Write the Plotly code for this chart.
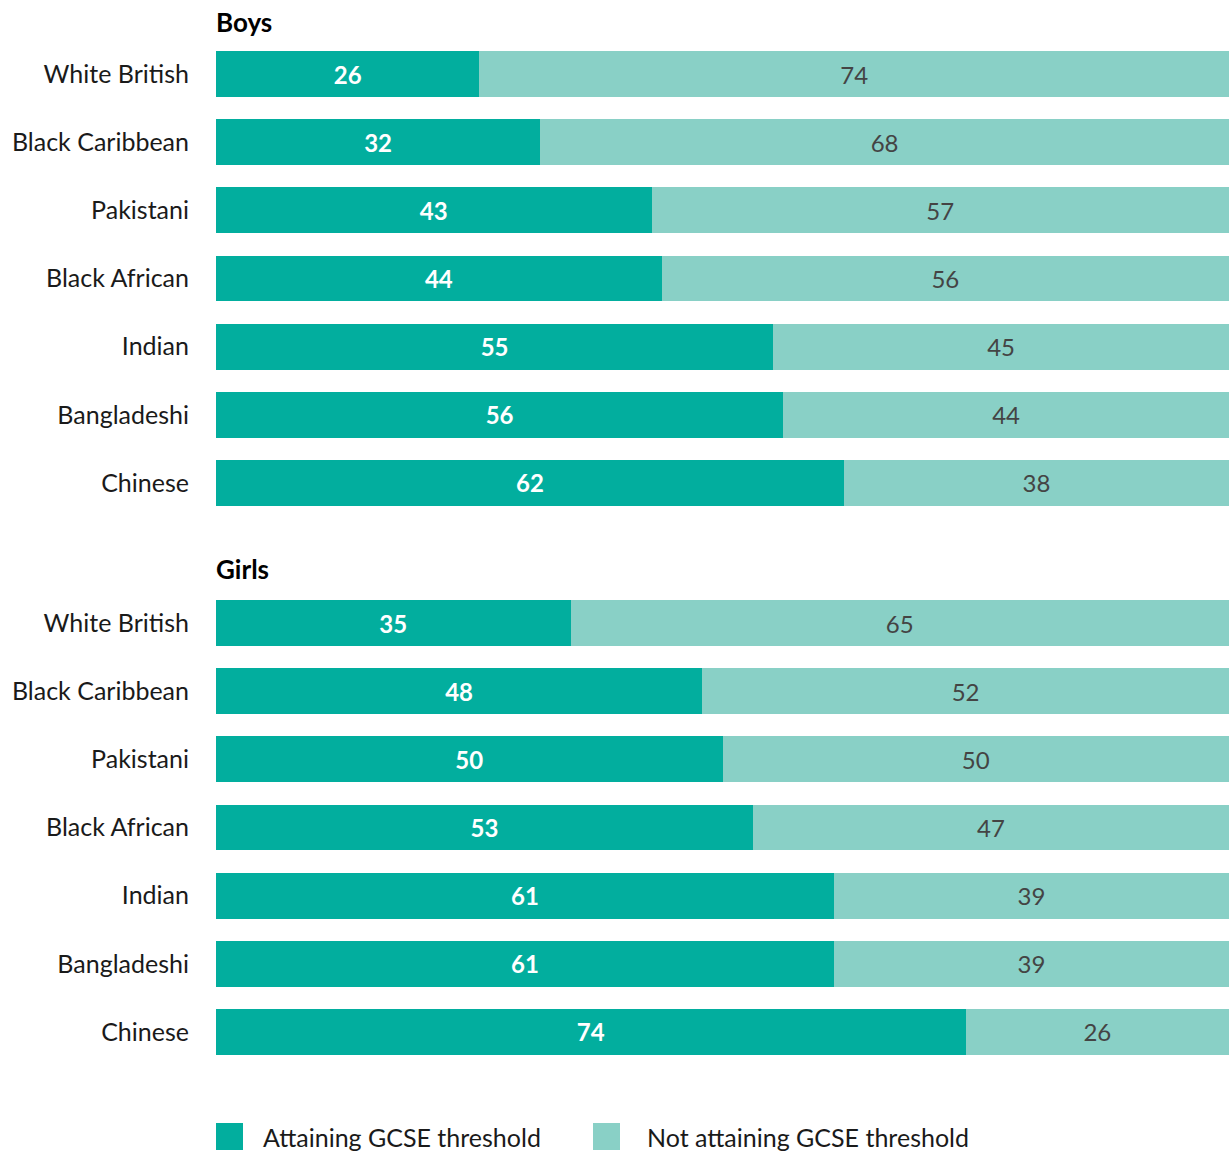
import plotly.graph_objects as go

categories = ["White British", "Black Caribbean", "Pakistani", "Black African",
              "Indian", "Bangladeshi", "Chinese"]
boys_attaining = [26, 32, 43, 44, 55, 56, 62]
boys_not = [74, 68, 57, 56, 45, 44, 38]
girls_attaining = [35, 48, 50, 53, 61, 61, 74]
girls_not = [65, 52, 50, 47, 39, 39, 26]
series_names = ["Attaining GCSE threshold", "Not attaining GCSE threshold"]
panel_titles = ["Boys", "Girls"]

W, H = 1229, 1151
DARK = "#02AE9E"
LIGHT = "#89D0C6"
FONT = "Lato, 'Noto Sans', sans-serif"
FS = 25
VFS = 24

def py(px):
    return 1 - px / H

fig = go.Figure()
for yax, att, nat in [("y", boys_attaining, boys_not), ("y2", girls_attaining, girls_not)]:
    fig.add_trace(go.Bar(
        y=categories, x=att, orientation="h", yaxis=yax, xaxis="x",
        marker=dict(color=DARK, line=dict(width=0)),
        text=[str(v) for v in att], textposition="inside", insidetextanchor="middle",
        textfont=dict(color="white", size=VFS, family=FONT, weight="bold"),
        showlegend=False, name=series_names[0], hoverinfo="skip"))
    fig.add_trace(go.Bar(
        y=categories, x=nat, orientation="h", yaxis=yax, xaxis="x",
        marker=dict(color=LIGHT, line=dict(width=0)),
        text=[str(v) for v in nat], textposition="inside", insidetextanchor="middle",
        textfont=dict(color="#444444", size=VFS, family=FONT),
        showlegend=False, name=series_names[1], hoverinfo="skip"))

yaxis_common = dict(
    type="category", categoryorder="array", categoryarray=categories,
    range=[6.5, -0.5], showgrid=False, zeroline=False, showline=False,
    ticks="", ticklabelstandoff=26, automargin=False,
    tickfont=dict(size=FS, color="#1a1a1a", family=FONT),
    anchor="x")

fig.update_layout(
    width=W, height=H,
    margin=dict(l=0, r=0, t=0, b=0),
    paper_bgcolor="white", plot_bgcolor="white",
    barmode="stack", bargap=0.326,
    showlegend=False,
    font=dict(family=FONT),
    xaxis=dict(domain=[216 / W, 1], range=[0, 100], visible=False, fixedrange=True),
    yaxis=dict(domain=[py(517), py(40)], **yaxis_common),
    yaxis2=dict(domain=[py(1066), py(589)], **yaxis_common),
)

# panel titles
for title, ypx in zip(panel_titles, [22, 569]):
    fig.add_annotation(x=216 / W, y=py(ypx), xref="paper", yref="paper",
                       text=f"<b>{title}</b>", showarrow=False,
                       xanchor="left", yanchor="middle", xshift=-2,
                       font=dict(size=26, color="black", family=FONT))

# manual legend
for name, color, x0, tx in [(series_names[0], DARK, 216, 263), (series_names[1], LIGHT, 593, 647)]:
    fig.add_shape(type="rect", xref="paper", yref="paper",
                  x0=x0 / W, x1=(x0 + 27) / W, y0=py(1150), y1=py(1123),
                  fillcolor=color, line=dict(width=0))
    fig.add_annotation(x=tx / W, y=py(1137), xref="paper", yref="paper",
                       text=name, showarrow=False, xanchor="left", yanchor="middle",
                       xshift=-2, font=dict(size=FS, color="#1a1a1a", family=FONT))

fig.write_html("out.html", config={"displayModeBar": False},
               post_script="document.body.style.margin='0';document.body.style.overflow='hidden';")
